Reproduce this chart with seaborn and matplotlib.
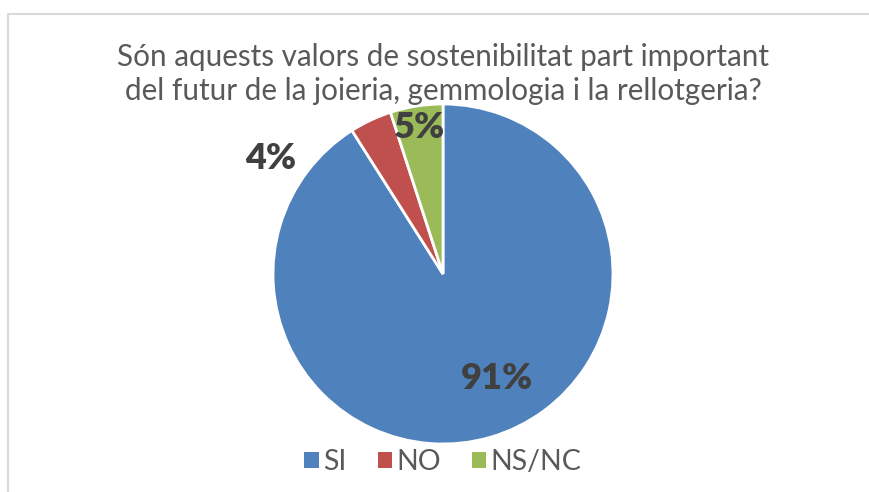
import matplotlib.pyplot as plt
import seaborn as sns
import numpy as np
from matplotlib.patches import Patch

# Data
categories = ["SI", "NO", "NS/NC"]
values = [91, 4, 5]
pct_labels = ["91%", "4%", "5%"]
colors = ["#4F81BD", "#C0504D", "#9BBB59"]
title = "Són aquests valors de sostenibilitat part important\ndel futur de la joieria, gemmologia i la rellotgeria?"

sns.set_theme(style="white")
plt.rcParams['font.family'] = ['Lato', 'DejaVu Sans']

W, H = 869, 492
fig = plt.figure(figsize=(W / 100, H / 100), dpi=100)
ax = fig.add_axes([0, 0, 1, 1])

# pie in pixel-like coordinates
cx, cy, r = 443, H - 274, 170
wedges, _ = ax.pie(values, colors=colors, startangle=90, counterclock=False,
                   center=(cx, cy), radius=r,
                   wedgeprops=dict(edgecolor="white", linewidth=2))
ax.set_xlim(0, W)
ax.set_ylim(0, H)
ax.set_aspect("auto")
ax.axis("off")

# percentage labels, placed relative to each wedge's mid angle
label_dist = [0.69, 1.22, 0.87]
angle_shift = [11, 31, 0]
for w, lab, d, s in zip(wedges, pct_labels, label_dist, angle_shift):
    ang = np.deg2rad((w.theta1 + w.theta2) / 2 + s)
    ax.text(cx + d * r * np.cos(ang), cy + d * r * np.sin(ang), lab,
            ha="center", va="center", fontsize=26, fontweight="heavy",
            color="#404040")

ax.text(cx, H - 74, title, ha="center", va="center", fontsize=21.3,
        color="#595959", linespacing=1.3)

handles = [Patch(facecolor=c, edgecolor="none") for c in colors]
ax.legend(handles, categories, loc="center", bbox_to_anchor=(cx / W, 30 / H),
          ncol=3, frameon=False, fontsize=20.5, labelcolor="#595959",
          handlelength=0.5, handleheight=0.5, handletextpad=0.15,
          columnspacing=1.1)

# chart area border
ax.plot([8, 8, W + 5], [-5, H - 14, H - 14], color="#D9D9D9", lw=1.5,
        clip_on=False)

fig.savefig("out.png", dpi=100, facecolor="white")
